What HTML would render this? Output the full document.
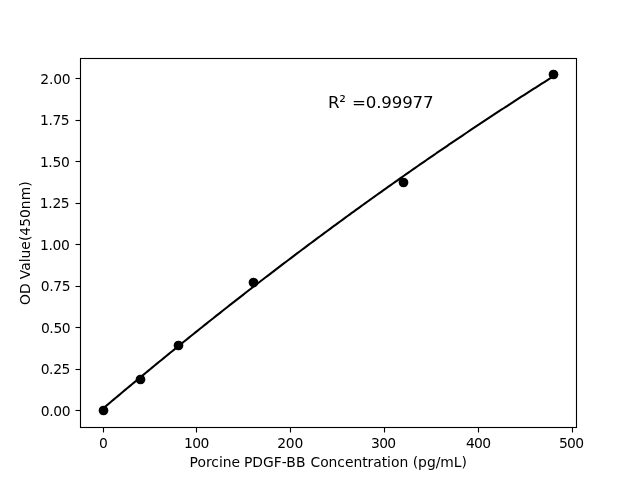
<!DOCTYPE html>
<html lang="en">
<head>
<meta charset="utf-8">
<title>Porcine PDGF-BB Standard Curve</title>
<style>
html,body{margin:0;padding:0;background:#fff;}
body{width:640px;height:480px;overflow:hidden;}
svg{display:block;}
svg text{font-family:"DejaVu Sans", "Liberation Sans", sans-serif;fill:#000;white-space:pre;}
.tk{font-size:13.889px;}
.an{font-size:16.667px;}
</style>
</head>
<body>
<svg width="640" height="480" viewBox="0 0 640 480">
<rect x="0" y="0" width="640" height="480" fill="#ffffff"/>
<polyline points="102.55,408.97 104.81,407.05 107.08,405.14 109.34,403.23 111.61,401.32 113.87,399.41 116.14,397.51 118.41,395.60 120.67,393.71 122.94,391.81 125.20,389.91 127.47,388.02 129.74,386.13 132.00,384.25 134.27,382.36 136.53,380.48 138.80,378.60 141.07,376.72 143.33,374.85 145.60,372.98 147.86,371.11 150.13,369.24 152.39,367.37 154.66,365.51 156.93,363.65 159.19,361.79 161.46,359.94 163.72,358.09 165.99,356.24 168.26,354.39 170.52,352.55 172.79,350.70 175.05,348.86 177.32,347.02 179.59,345.19 181.85,343.36 184.12,341.53 186.38,339.70 188.65,337.87 190.91,336.05 193.18,334.23 195.45,332.41 197.71,330.60 199.98,328.79 202.24,326.98 204.51,325.17 206.78,323.36 209.04,321.56 211.31,319.76 213.57,317.96 215.84,316.17 218.11,314.37 220.37,312.58 222.64,310.79 224.90,309.01 227.17,307.23 229.43,305.44 231.70,303.67 233.97,301.89 236.23,300.12 238.50,298.35 240.76,296.58 243.03,294.81 245.30,293.05 247.56,291.29 249.83,289.53 252.09,287.77 254.36,286.02 256.62,284.27 258.89,282.52 261.16,280.78 263.42,279.03 265.69,277.29 267.95,275.55 270.22,273.82 272.49,272.08 274.75,270.35 277.02,268.62 279.28,266.90 281.55,265.17 283.82,263.45 286.08,261.73 288.35,260.02 290.61,258.30 292.88,256.59 295.14,254.88 297.41,253.18 299.68,251.47 301.94,249.77 304.21,248.07 306.47,246.37 308.74,244.68 311.01,242.99 313.27,241.30 315.54,239.61 317.80,237.93 320.07,236.25 322.34,234.57 324.60,232.89 326.87,231.22 329.13,229.55 331.40,227.88 333.66,226.21 335.93,224.54 338.20,222.88 340.46,221.22 342.73,219.57 344.99,217.91 347.26,216.26 349.53,214.61 351.79,212.96 354.06,211.32 356.32,209.68 358.59,208.04 360.86,206.40 363.12,204.77 365.39,203.13 367.65,201.50 369.92,199.88 372.18,198.25 374.45,196.63 376.72,195.01 378.98,193.39 381.25,191.78 383.51,190.16 385.78,188.55 388.05,186.95 390.31,185.34 392.58,183.74 394.84,182.14 397.11,180.54 399.38,178.95 401.64,177.35 403.91,175.76 406.17,174.18 408.44,172.59 410.70,171.01 412.97,169.43 415.24,167.85 417.50,166.27 419.77,164.70 422.03,163.13 424.30,161.56 426.57,160.00 428.83,158.44 431.10,156.87 433.36,155.32 435.63,153.76 437.89,152.21 440.16,150.66 442.43,149.11 444.69,147.56 446.96,146.02 449.22,144.48 451.49,142.94 453.76,141.41 456.02,139.87 458.29,138.34 460.55,136.81 462.82,135.29 465.09,133.76 467.35,132.24 469.62,130.73 471.88,129.21 474.15,127.70 476.41,126.18 478.68,124.68 480.95,123.17 483.21,121.67 485.48,120.17 487.74,118.67 490.01,117.17 492.28,115.68 494.54,114.19 496.81,112.70 499.07,111.21 501.34,109.73 503.61,108.25 505.87,106.77 508.14,105.29 510.40,103.82 512.67,102.35 514.93,100.88 517.20,99.41 519.47,97.95 521.73,96.48 524.00,95.03 526.26,93.57 528.53,92.11 530.80,90.66 533.06,89.21 535.33,87.77 537.59,86.32 539.86,84.88 542.13,83.44 544.39,82.01 546.66,80.57 548.92,79.14 551.19,77.71 553.45,76.28" fill="none" stroke="#000" stroke-width="2.0833" stroke-linecap="square" stroke-linejoin="round"/>
<g fill="#000">
<circle cx="103.5" cy="410.5" r="4.861"/>
<circle cx="140.5" cy="379.5" r="4.861"/>
<circle cx="178.5" cy="345.5" r="4.861"/>
<circle cx="253.5" cy="282.5" r="4.861"/>
<circle cx="403.5" cy="182.5" r="4.861"/>
<circle cx="553.5" cy="74.5" r="4.861"/>
</g>
<g stroke="#000" stroke-width="1.1111" fill="none">
<line x1="103.5" y1="427.5" x2="103.5" y2="432.5"/>
<line x1="196.5" y1="427.5" x2="196.5" y2="432.5"/>
<line x1="290.5" y1="427.5" x2="290.5" y2="432.5"/>
<line x1="384.5" y1="427.5" x2="384.5" y2="432.5"/>
<line x1="478.5" y1="427.5" x2="478.5" y2="432.5"/>
<line x1="572.5" y1="427.5" x2="572.5" y2="432.5"/>
<line x1="75.5" y1="410.5" x2="80.5" y2="410.5"/>
<line x1="75.5" y1="369.5" x2="80.5" y2="369.5"/>
<line x1="75.5" y1="327.5" x2="80.5" y2="327.5"/>
<line x1="75.5" y1="286.5" x2="80.5" y2="286.5"/>
<line x1="75.5" y1="244.5" x2="80.5" y2="244.5"/>
<line x1="75.5" y1="203.5" x2="80.5" y2="203.5"/>
<line x1="75.5" y1="161.5" x2="80.5" y2="161.5"/>
<line x1="75.5" y1="120.5" x2="80.5" y2="120.5"/>
<line x1="75.5" y1="78.5" x2="80.5" y2="78.5"/>
<rect x="80.5" y="58.5" width="496" height="369"/>
</g>
<text class="tk" text-anchor="middle" x="103.29" y="448.48">0</text>
<text class="tk" text-anchor="middle" letter-spacing="-0.553" x="196.29" y="448.48">100</text>
<text class="tk" text-anchor="middle" letter-spacing="-0.126" x="290.23" y="448.48">200</text>
<text class="tk" text-anchor="middle" letter-spacing="-0.694" x="383.31" y="448.48">300</text>
<text class="tk" text-anchor="middle" letter-spacing="-0.602" x="478.23" y="448.48">400</text>
<text class="tk" text-anchor="middle" letter-spacing="-0.596" x="571.25" y="448.48">500</text>
<text class="tk" text-anchor="end" letter-spacing="-0.416" x="70.07" y="415.68">0.00</text>
<text class="tk" text-anchor="end" letter-spacing="-0.365" x="70.08" y="374.15">0.25</text>
<text class="tk" text-anchor="end" letter-spacing="-0.364" x="70.33" y="332.62">0.50</text>
<text class="tk" text-anchor="end" letter-spacing="-0.384" x="70.09" y="291.08">0.75</text>
<text class="tk" text-anchor="end" letter-spacing="-0.415" x="69.31" y="249.55">1.00</text>
<text class="tk" text-anchor="end" letter-spacing="-0.353" x="69.33" y="208.02">1.25</text>
<text class="tk" text-anchor="end" letter-spacing="-0.358" x="69.37" y="167.49">1.50</text>
<text class="tk" text-anchor="end" letter-spacing="-0.403" x="69.32" y="124.96">1.75</text>
<text class="tk" text-anchor="end" letter-spacing="-0.123" x="70.59" y="84.43">2.00</text>
<text class="tk"><tspan x="189.56" y="467.47" letter-spacing="-0.015">Porcine </tspan><tspan x="243.94" y="467.47" letter-spacing="0.027">PDGF-BB </tspan><tspan x="310.53" y="467.47" letter-spacing="-0.041">Concentration </tspan><tspan x="412.69" y="467.47" letter-spacing="-0.011">(pg/mL)</tspan></text>
<text class="tk" transform="translate(29.93 305.11) rotate(-90)"><tspan x="0.00" y="0.00" letter-spacing="0.307">OD </tspan><tspan x="25.86" y="0.02" letter-spacing="0.014">Value(450nm)</tspan></text>
<text class="an"><tspan x="327.90" y="108.06" letter-spacing="-0.226">R² </tspan><tspan x="352.00" y="108.06" letter-spacing="-0.181">=0.99977</tspan></text>
</svg>
</body>
</html>
